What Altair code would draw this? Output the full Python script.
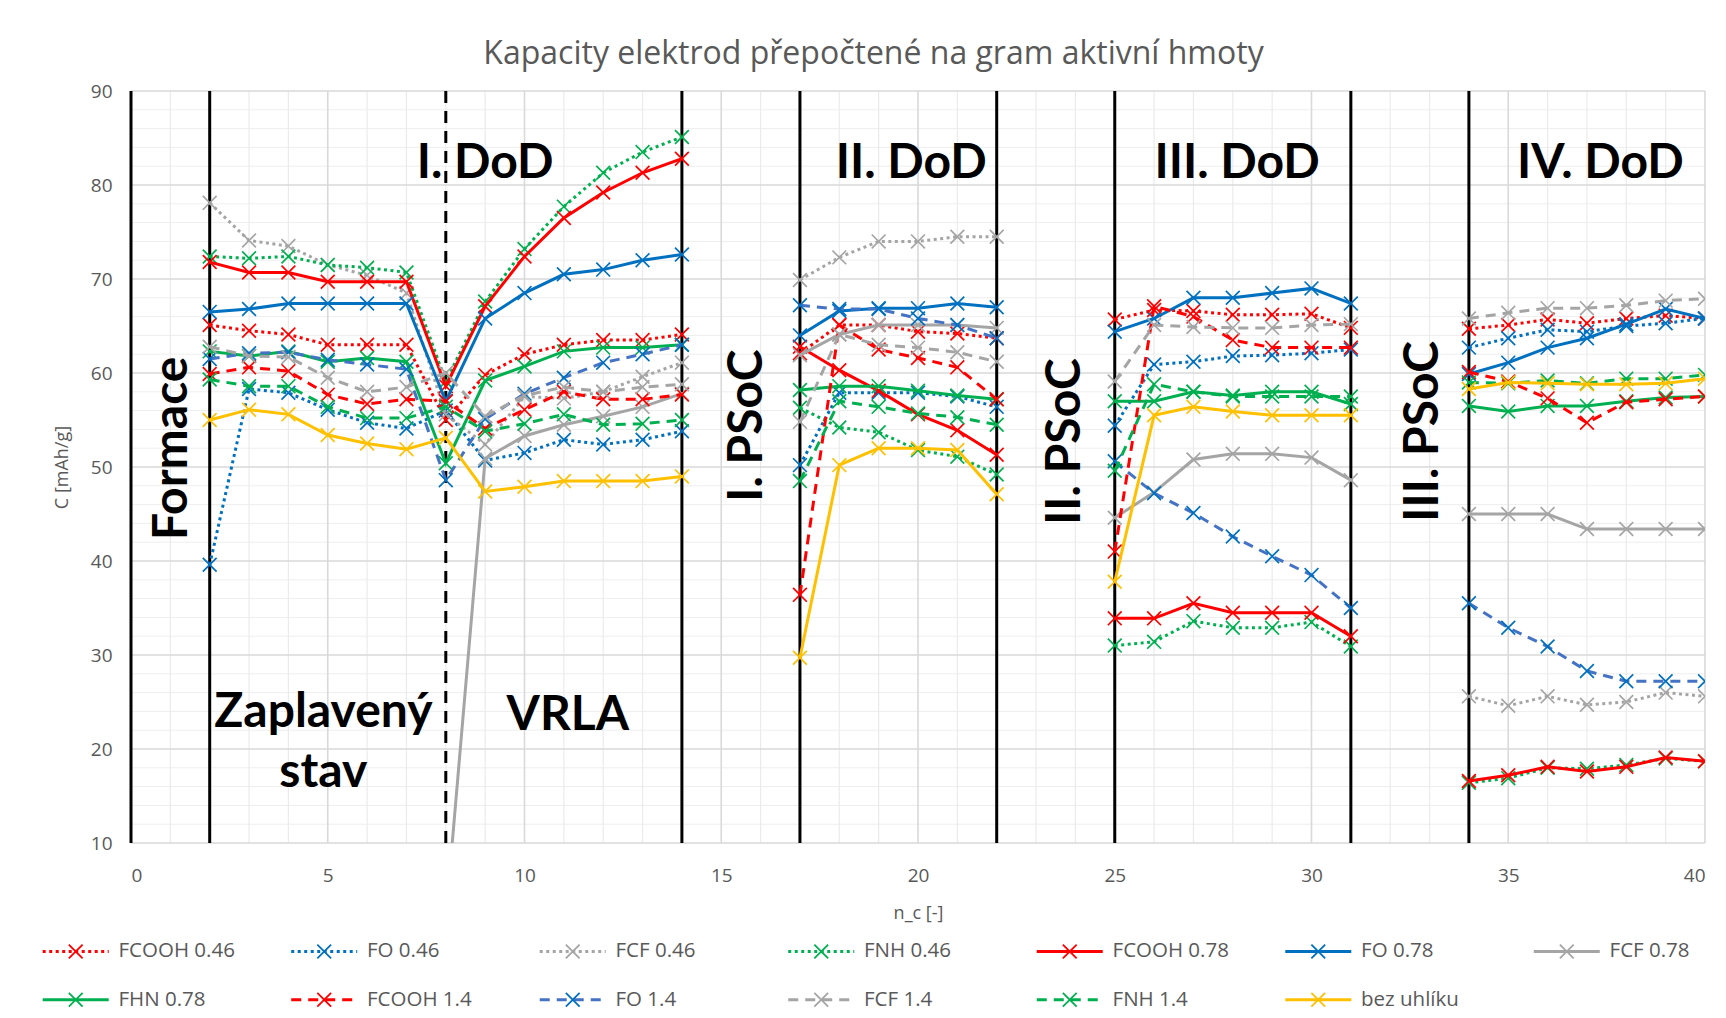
import altair as alt
import pandas as pd

# ---------------- data ----------------
X_VALUES = [2, 3, 4, 5, 6, 7, 8, 9, 10, 11, 12, 13, 14,
            17, 18, 19, 20, 21, 22,
            25, 26, 27, 28, 29, 30, 31,
            34, 35, 36, 37, 38, 39, 40]

SERIES = ["FCOOH 0.46", "FO 0.46", "FCF 0.46", "FNH 0.46", "FCOOH 0.78", "FO 0.78", "FCF 0.78",
          "FHN 0.78", "FCOOH 1.4", "FO 1.4", "FCF 1.4", "FNH 1.4", "bez uhlíku"]

N = None
FCOOH_046 = [65.1, 64.5, 64.1, 63.0, 63.0, 63.0, 55.0, 59.8, 62.0, 63.0, 63.5, 63.5, 64.1,
             62.1, 65.1, 65.1, 64.4, 64.2, 63.7,
             65.7, 66.7, 66.6, 66.2, 66.2, 66.3, 64.8,
             64.7, 65.1, 65.7, 65.3, 65.8, 66.1, 65.8]
FO_046 = [39.6, 58.3, 57.9, 56.1, 54.7, 54.1, 56.0, 50.7, 51.5, 52.9, 52.4, 52.9, 53.8,
          50.2, 57.9, 57.9, 57.9, 57.5, 56.4,
          54.4, 60.9, 61.2, 61.8, 61.9, 62.1, 62.5,
          62.7, 63.7, 64.6, 64.4, 65.0, 65.3, 65.8]
FCF_046 = [78.1, 74.1, 73.5, 71.5, 70.4, 68.5, 55.6, 52.4, 57.5, 57.3, 58.0, 59.6, 61.1,
           69.9, 72.3, 74.0, 74.0, 74.5, 74.5,
           N, N, N, N, N, N, N,
           25.6, 24.6, 25.6, 24.7, 25.0, 26.0, 25.6]
FNH_046 = [72.4, 72.2, 72.4, 71.5, 71.2, 70.7, 59.1, 67.6, 73.2, 77.7, 81.3, 83.5, 85.1,
           56.3, 54.2, 53.7, 51.8, 51.1, 49.2,
           31.0, 31.4, 33.6, 32.9, 32.9, 33.5, 30.9,
           16.4, 16.9, 18.0, 17.9, 18.3, 19.0, 18.7]
FCOOH_078 = [71.8, 70.7, 70.7, 69.7, 69.7, 69.7, 58.6, 67.1, 72.4, 76.5, 79.2, 81.3, 82.8,
             62.8, 60.3, 58.1, 55.6, 53.9, 51.3,
             33.9, 33.9, 35.5, 34.5, 34.5, 34.5, 32.0,
             16.6, 17.2, 18.1, 17.6, 18.1, 19.1, 18.7]
FO_078 = [66.5, 66.8, 67.4, 67.4, 67.4, 67.4, 57.0, 65.8, 68.5, 70.5, 71.0, 72.0, 72.6,
          64.0, 66.6, 66.9, 66.9, 67.4, 67.0,
          64.4, 65.8, 68.0, 68.0, 68.5, 69.0, 67.4,
          59.9, 61.1, 62.7, 63.7, 65.2, 66.8, 65.8]
FCF_078 = [N, N, N, N, N, N, 2.0, 50.9, 53.3, 54.5, 55.4, 56.4, 57.8,
           61.9, 64.1, 65.1, 65.1, 65.1, 64.8,
           44.6, 47.3, 50.8, 51.4, 51.4, 51.0, 48.6,
           45.0, 45.0, 45.0, 43.4, 43.4, 43.4, 43.4]
FHN_078 = [62.3, 61.8, 62.3, 61.2, 61.6, 61.2, 50.4, 59.2, 60.7, 62.3, 62.7, 62.7, 63.0,
           58.2, 58.6, 58.6, 58.1, 57.6, 57.2,
           57.0, 57.0, 58.0, 57.6, 58.0, 58.0, 56.7,
           56.5, 55.9, 56.5, 56.5, 57.0, 57.4, 57.5]
FCOOH_14 = [59.9, 60.6, 60.2, 57.7, 56.7, 57.2, 57.0, 54.1, 56.1, 58.0, 57.2, 57.2, 57.7,
            36.4, 65.1, 62.5, 61.6, 60.6, 57.2,
            41.0, 67.1, 66.0, 63.5, 62.7, 62.7, 62.7,
            60.1, 59.1, 57.3, 54.7, 56.9, 57.2, 57.5]
FO_14 = [61.5, 62.1, 62.2, 61.4, 60.9, 60.4, 48.6, 55.1, 57.8, 59.5, 61.1, 62.0, 63.0,
         67.2, 66.8, 66.8, 65.8, 65.1, 63.7,
         50.6, 47.2, 45.1, 42.6, 40.5, 38.5, 35.0,
         35.5, 32.9, 30.9, 28.3, 27.2, 27.2, 27.2]
FCF_14 = [62.8, 61.8, 61.7, 59.5, 58.0, 58.5, 60.0, 55.4, 57.6, 58.5, 58.0, 58.5, 58.8,
          54.8, 64.1, 63.0, 62.7, 62.2, 61.2,
          59.1, 65.1, 64.9, 64.8, 64.8, 65.1, 65.2,
          65.8, 66.4, 66.9, 66.9, 67.2, 67.7, 67.9]
FNH_14 = [59.3, 58.6, 58.6, 56.4, 55.2, 55.2, 56.4, 53.8, 54.6, 55.6, 54.5, 54.6, 55.0,
          48.5, 57.0, 56.4, 55.7, 55.3, 54.5,
          49.6, 58.8, 58.0, 57.5, 57.5, 57.5, 57.5,
          59.0, 58.9, 59.2, 58.9, 59.4, 59.4, 59.8]
BEZ = [55.0, 56.1, 55.6, 53.4, 52.5, 51.9, 53.1, 47.4, 47.9, 48.5, 48.5, 48.5, 49.0,
       29.7, 50.2, 52.0, 52.0, 51.8, 47.1,
       37.8, 55.5, 56.4, 55.9, 55.5, 55.5, 55.5,
       58.3, 59.0, 58.9, 58.8, 58.8, 58.9, 59.4]

VALUES = [FCOOH_046, FO_046, FCF_046, FNH_046, FCOOH_078, FO_078, FCF_078,
          FHN_078, FCOOH_14, FO_14, FCF_14, FNH_14, BEZ]

SEPARATORS_SOLID = [0, 2, 14, 17, 22, 25, 31, 34]
SEPARATORS_DASHED = [8]

Y_MAJOR = list(range(10, 91, 10))
Y_MINOR = [v for v in range(10, 91, 2) if v % 10]
X_MAJOR = list(range(0, 41, 5))
X_MINOR = [v for v in range(0, 41) if v % 5]

ANN_TEXT = ["Zaplavený", "stav", "I. DoD", "VRLA", "II. DoD", "III. DoD", "IV. DoD"]
ANN_X = [4.89, 4.89, 9.0, 11.1, 19.83, 28.11, 37.34]
ANN_Y = [23.8, 17.4, 82.2, 23.5, 82.2, 82.2, 82.2]
ROT_TEXT = ["Formace", "I. PSoC", "II. PSoC", "III. PSoC"]
ROT_X = [1.06, 15.69, 23.75, 32.86]
ROT_Y = [52.0, 54.4, 52.7, 53.8]

TITLE = "Kapacity elektrod přepočtené na gram aktivní hmoty"

# ---------------- styles ----------------
RED, BLUE, BLUE2, GRAY, GREEN, YELLOW = "#FF0000", "#0070C0", "#4472C4", "#A5A5A5", "#00B050", "#FFC000"
DOT = [3, 3.5]
DASH = [10, 7]
STYLE = [
    (RED, RED, DOT), (BLUE, BLUE, DOT), (GRAY, GRAY, DOT), (GREEN, GREEN, DOT),
    (RED, RED, None), (BLUE, BLUE, None), (GRAY, GRAY, None),
    (GREEN, GREEN, None), (RED, RED, DASH), (BLUE2, BLUE, DASH), (GRAY, GRAY, DASH), (GREEN, GREEN, DASH),
    (YELLOW, YELLOW, None),
]
XSHAPE = "M-1,-1L1,1M-1,1L1,-1"
TXT = "#595959"


def seg_of(x):
    if x <= 14:
        return "A"
    if x <= 22:
        return "B"
    if x <= 31:
        return "C"
    return "D"


xs = alt.Scale(domain=[0, 40], nice=False, zero=False)
ys = alt.Scale(domain=[10, 90], nice=False, zero=False)
X_ENC = alt.X("x:Q", scale=xs, title="n_c [-]",
              axis=alt.Axis(values=X_MAJOR, labelPadding=23, titlePadding=19))
Y_ENC = alt.Y("y:Q", scale=ys, title="C [mAh/g]",
              axis=alt.Axis(values=Y_MAJOR, labelPadding=19, titlePadding=19))

layers = []
# grid
layers.append(alt.Chart(pd.DataFrame({"y": Y_MINOR})).mark_rule(color="#EEEEEE", strokeWidth=1).encode(y=Y_ENC))
layers.append(alt.Chart(pd.DataFrame({"x": X_MINOR})).mark_rule(color="#EBEBEB", strokeWidth=1.2).encode(x=X_ENC))
layers.append(alt.Chart(pd.DataFrame({"y": Y_MAJOR})).mark_rule(color="#D9D9D9", strokeWidth=1.6).encode(y=Y_ENC))
layers.append(alt.Chart(pd.DataFrame({"x": X_MAJOR})).mark_rule(color="#D9D9D9", strokeWidth=1.6).encode(x=X_ENC))
# separators
layers.append(alt.Chart(pd.DataFrame({"x": SEPARATORS_SOLID})).mark_rule(color="black", strokeWidth=3).encode(x=X_ENC))
layers.append(alt.Chart(pd.DataFrame({"x": SEPARATORS_DASHED})).mark_rule(
    color="black", strokeWidth=3, strokeDash=[12, 8]).encode(x=X_ENC))

# series
for name, vals, (lc, mc, dash) in zip(SERIES, VALUES, STYLE):
    rows = [{"x": x, "y": v, "seg": seg_of(x)} for x, v in zip(X_VALUES, vals) if v is not None]
    df = pd.DataFrame(rows)
    line_kw = dict(color=lc, strokeWidth=3, clip=True)
    if dash:
        line_kw["strokeDash"] = dash
    layers.append(alt.Chart(df).mark_line(**line_kw).encode(x=X_ENC, y=Y_ENC, detail="seg:N"))
    layers.append(alt.Chart(df).mark_point(shape=XSHAPE, size=190, filled=False, color=mc,
                                           strokeWidth=1.7, opacity=1, clip=True).encode(x=X_ENC, y=Y_ENC))

# annotations
ann = pd.DataFrame({"x": ANN_X, "y": ANN_Y, "t": ANN_TEXT})
rot = pd.DataFrame({"x": ROT_X, "y": ROT_Y, "t": ROT_TEXT})
layers.append(alt.Chart(ann).mark_text(font="Lato", fontWeight="bold", fontSize=48, color="black",
                                       baseline="middle", align="center").encode(x=X_ENC, y=Y_ENC, text="t:N"))
layers.append(alt.Chart(rot).mark_text(font="Lato", fontWeight="bold", fontSize=48, color="black",
                                       baseline="middle", align="center", angle=270).encode(x=X_ENC, y=Y_ENC, text="t:N"))

main = alt.layer(*layers).properties(width=1574, height=752)

# ---------------- legend ----------------
LEG_LINE = 0.2656
LEG_TEXT = 0.305
lrows = []
for i, (name, (lc, mc, dash)) in enumerate(zip(SERIES, STYLE)):
    col, row = i % 7, i // 7
    lrows.append({"series": name, "x0": col, "x1": col + LEG_LINE, "xm": col + LEG_LINE / 2,
                  "xt": col + LEG_TEXT, "row": row, "mc": mc})
ldf = pd.DataFrame(lrows)
lxs = alt.Scale(domain=[0.3553, 6.689], nice=False, zero=False)
lys = alt.Scale(domain=[-0.3, 1.15], reverse=True, nice=False, zero=False)
leg_layers = []
for i, (name, (lc, mc, dash)) in enumerate(zip(SERIES, STYLE)):
    kw = dict(color=lc, strokeWidth=3)
    if dash:
        kw["strokeDash"] = dash
    leg_layers.append(alt.Chart(ldf[ldf.series == name]).mark_rule(**kw).encode(
        x=alt.X("x0:Q", scale=lxs, axis=None), x2="x1:Q", y=alt.Y("row:Q", scale=lys, axis=None)))
leg_layers.append(alt.Chart(ldf).mark_point(shape=XSHAPE, size=190, filled=False, strokeWidth=1.8, opacity=1).encode(
    x=alt.X("xm:Q", scale=lxs, axis=None), y=alt.Y("row:Q", scale=lys, axis=None),
    color=alt.Color("mc:N", scale=None)))
leg_layers.append(alt.Chart(ldf).mark_text(font="Open Sans", fontSize=20.5, color=TXT, align="left",
                                           baseline="middle").encode(
    x=alt.X("xt:Q", scale=lxs, axis=None), y=alt.Y("row:Q", scale=lys, axis=None), text="series:N"))
legend = alt.layer(*leg_layers).properties(width=1574, height=70)

chart = alt.vconcat(main, legend, spacing=15).properties(
    title=alt.TitleParams(TITLE, font="Open Sans", fontSize=32, color=TXT, fontWeight="normal",
                          anchor="middle", offset=11),
    padding={"left": 33, "top": 30, "right": 5, "bottom": 0},
).configure_view(stroke=None).configure_axis(
    grid=False, domain=False, ticks=False,
    labelFont="Open Sans", labelFontSize=19, labelColor=TXT,
    titleFont="Open Sans", titleFontSize=18, titleColor=TXT, titleFontWeight="normal",
)

chart.save("out.html", embed_options={"renderer": "svg", "actions": False})
